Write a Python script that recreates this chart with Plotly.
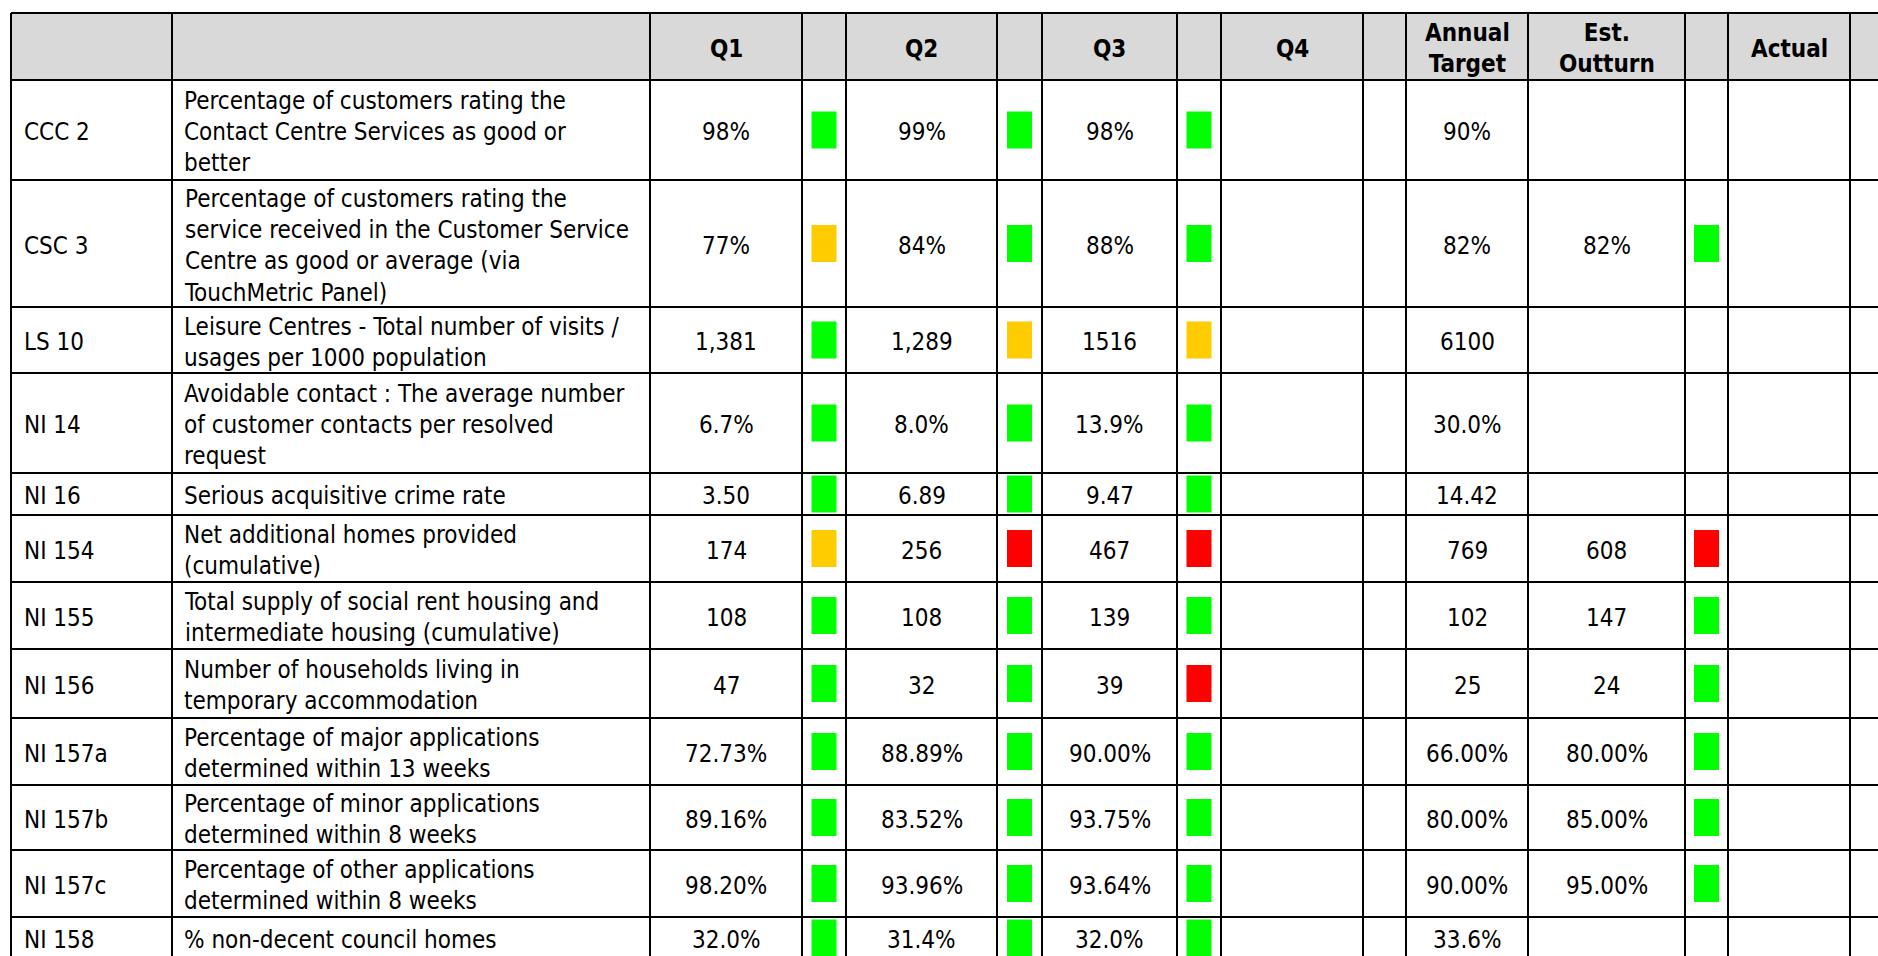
import plotly.graph_objects as go

# ---------------- data ----------------
headers = ["", "", "Q1", "", "Q2", "", "Q3", "", "Q4", "", "Annual<br>Target", "Est.<br>Outturn", "", "Actual", ""]

ids = ["CCC 2", "CSC 3", "LS 10", "NI 14", "NI 16", "NI 154", "NI 155", "NI 156",
       "NI 157a", "NI 157b", "NI 157c", "NI 158"]
descriptions = [
    "Percentage of customers rating the<br>Contact Centre Services as good or<br>better",
    "Percentage of customers rating the<br>service received in the Customer Service<br>Centre as good or average (via<br>TouchMetric Panel)",
    "Leisure Centres - Total number of visits /<br>usages per 1000 population",
    "Avoidable contact : The average number<br>of customer contacts per resolved<br>request",
    "Serious acquisitive crime rate",
    "Net additional homes provided<br>(cumulative)",
    "Total supply of social rent housing and<br>intermediate housing (cumulative)",
    "Number of households living in<br>temporary accommodation",
    "Percentage of major applications<br>determined within 13 weeks",
    "Percentage of minor applications<br>determined within 8 weeks",
    "Percentage of other applications<br>determined within 8 weeks",
    "% non-decent council homes",
]
q1 = ["98%", "77%", "1,381", "6.7%", "3.50", "174", "108", "47", "72.73%", "89.16%", "98.20%", "32.0%"]
q1_status = ["G", "A", "G", "G", "G", "A", "G", "G", "G", "G", "G", "G"]
q2 = ["99%", "84%", "1,289", "8.0%", "6.89", "256", "108", "32", "88.89%", "83.52%", "93.96%", "31.4%"]
q2_status = ["G", "G", "A", "G", "G", "R", "G", "G", "G", "G", "G", "G"]
q3 = ["98%", "88%", "1516", "13.9%", "9.47", "467", "139", "39", "90.00%", "93.75%", "93.64%", "32.0%"]
q3_status = ["G", "G", "A", "G", "G", "R", "G", "R", "G", "G", "G", "G"]
q4 = [""] * 12
q4_status = [""] * 12
annual_target = ["90%", "82%", "6100", "30.0%", "14.42", "769", "102", "25", "66.00%", "80.00%", "90.00%", "33.6%"]
est_outturn = ["", "82%", "", "", "", "608", "147", "24", "80.00%", "85.00%", "95.00%", ""]
outturn_status = ["", "G", "", "", "", "R", "G", "G", "G", "G", "G", ""]
actual = [""] * 12
actual_status = [""] * 12

# ---------------- layout config (sizes / styles) ----------------
W, H = 1878, 956
table_left, table_top = 11, 13
col_widths = [161, 478, 152, 44, 151, 45, 135, 44, 142, 43, 122, 157, 43, 122, 120]
header_height = 67
row_heights = [100, 127, 66, 100, 42, 67, 67, 69, 67, 65, 67, 42]
col_align = ["left", "left"] + ["center"] * 13
col_pad = [11, 10] + [0] * 13
status_colors = {"G": "#00ff00", "A": "#ffcc00", "R": "#ff0000"}
ind_w, ind_h = 25, 37
FONT = "DejaVu Sans Condensed, Tahoma, DejaVu Sans, sans-serif"
FS = 24
TEXT_SHIFT = -2

columns = [ids, descriptions, q1, q1_status, q2, q2_status, q3, q3_status,
           q4, q4_status, annual_target, est_outturn, outturn_status, actual, actual_status]
is_status = [False, False, False, True, False, True, False, True, False, True, False, False, True, False, True]

col_edges = [table_left]
for w in col_widths:
    col_edges.append(col_edges[-1] + w)
row_edges = [table_top, table_top + header_height]
for h in row_heights:
    row_edges.append(row_edges[-1] + h)

shapes = []
annotations = []

# header background
shapes.append(dict(type="rect", xref="x", yref="y", x0=col_edges[0], x1=col_edges[-1],
                   y0=row_edges[0], y1=row_edges[1], fillcolor="#d9d9d9", line_width=0, layer="below"))

# header text
for c, txt in enumerate(headers):
    if txt:
        annotations.append(dict(x=(col_edges[c] + col_edges[c + 1]) / 2, y=(row_edges[0] + row_edges[1]) / 2,
                                xref="x", yref="y", text="<b>" + txt + "</b>", showarrow=False,
                                xanchor="center", yanchor="middle", align="center", yshift=TEXT_SHIFT,
                                font=dict(family=FONT, size=FS, color="#000000")))

# body
for r in range(len(ids)):
    y0, y1 = row_edges[r + 1], row_edges[r + 2]
    yc = (y0 + y1) / 2
    for c, col in enumerate(columns):
        val = col[r]
        if not val:
            continue
        x0, x1 = col_edges[c], col_edges[c + 1]
        if is_status[c]:
            xc = (x0 + x1) / 2
            shapes.append(dict(type="rect", xref="x", yref="y", x0=xc - ind_w / 2, x1=xc + ind_w / 2,
                               y0=yc - ind_h / 2, y1=yc + ind_h / 2, fillcolor=status_colors[val],
                               line_width=0, layer="below"))
        else:
            if col_align[c] == "left":
                annotations.append(dict(x=x0 + col_pad[c], y=yc, xref="x", yref="y", text=val,
                                        showarrow=False, xanchor="left", yanchor="middle", align="left",
                                        yshift=TEXT_SHIFT,
                                        font=dict(family=FONT, size=FS, color="#000000")))
            else:
                annotations.append(dict(x=(x0 + x1) / 2, y=yc, xref="x", yref="y", text=val,
                                        showarrow=False, xanchor="center", yanchor="middle", align="center",
                                        yshift=TEXT_SHIFT,
                                        font=dict(family=FONT, size=FS, color="#000000")))

# grid lines
for ye in row_edges:
    shapes.append(dict(type="line", xref="x", yref="y", x0=col_edges[0], x1=col_edges[-1], y0=ye, y1=ye,
                       line=dict(color="#000000", width=2)))
for xe in col_edges:
    shapes.append(dict(type="line", xref="x", yref="y", x0=xe, x1=xe, y0=row_edges[0], y1=row_edges[-1],
                       line=dict(color="#000000", width=2)))

fig = go.Figure()
fig.add_trace(go.Scatter(x=[0, W], y=[0, H], mode="markers", marker=dict(opacity=0),
                         hoverinfo="skip", showlegend=False))
fig.update_layout(
    width=W, height=H, margin=dict(l=0, r=0, t=0, b=0),
    paper_bgcolor="#ffffff", plot_bgcolor="#ffffff",
    xaxis=dict(range=[0, W], visible=False, fixedrange=True),
    yaxis=dict(range=[H, 0], visible=False, fixedrange=True),
    shapes=shapes, annotations=annotations, showlegend=False,
)
fig.write_html("out.html", config={"displayModeBar": False, "staticPlot": True},
               post_script="document.body.style.margin='0';document.body.style.overflow='hidden';")
